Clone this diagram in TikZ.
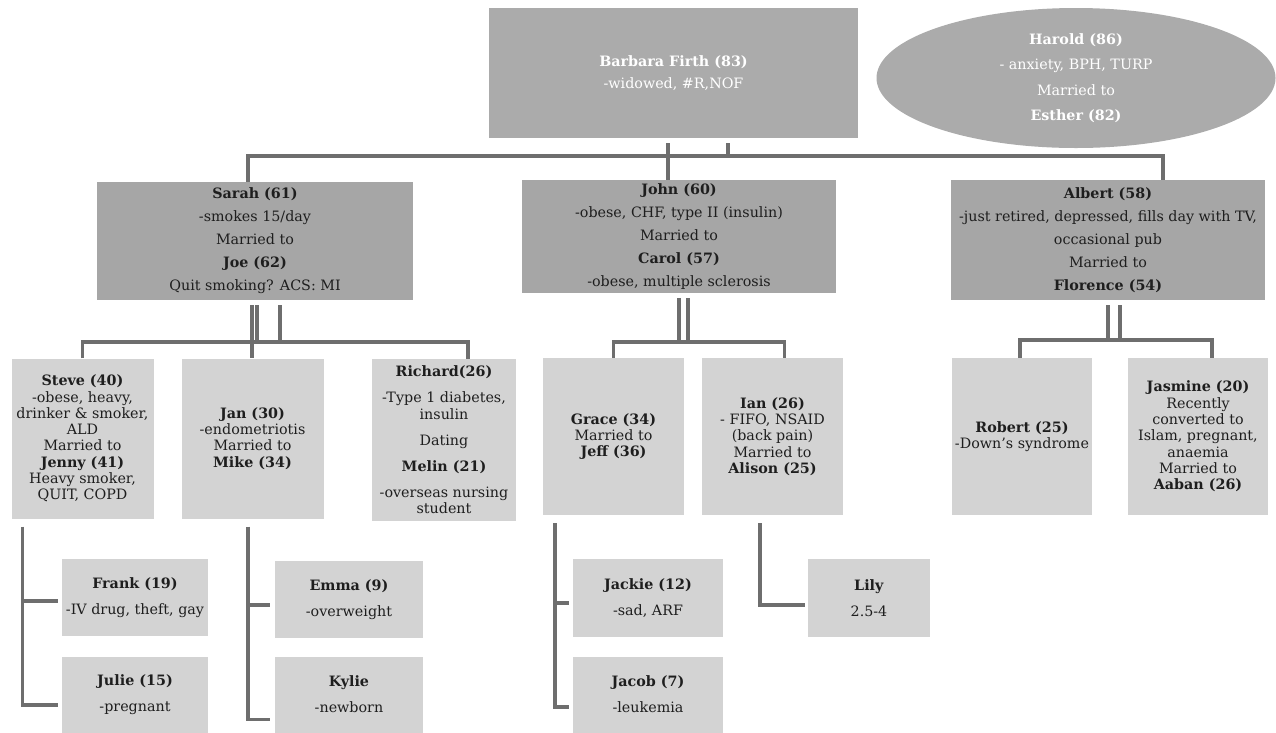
\documentclass[tikz,border=0pt]{standalone}
\usepackage{fontspec}
\setmainfont{DejaVu Serif}
\usetikzlibrary{positioning,shapes.geometric}
\definecolor{eldergray}{HTML}{ABABAB}
\definecolor{gengray}{HTML}{A6A6A6}
\definecolor{kidgray}{HTML}{D3D3D3}
\definecolor{linegray}{HTML}{6E6E6E}
\definecolor{inkgray}{HTML}{1E1E1E}
\tikzset{
  eldbox/.style={fill=eldergray, text=white, align=center, inner sep=0pt,
    font=\fontsize{14.3}{22}\selectfont},
  genbox/.style={rectangle, fill=gengray, text=inkgray, align=center, inner sep=0pt,
    minimum width=314, font=\fontsize{14.3}{23}\selectfont},
  kidbox/.style={rectangle, fill=kidgray, text=inkgray, align=center, inner sep=0pt,
    minimum width=142, minimum height=160, font=\fontsize{14.3}{16.3}\selectfont},
  grandbox/.style={rectangle, fill=kidgray, text=inkgray, align=center, inner sep=0pt,
    minimum width=148, minimum height=77, font=\fontsize{14.3}{26}\selectfont},
  famline/.style={draw=linegray, line width=3.5pt}
}
\begin{document}
\begin{tikzpicture}[x=1pt,y=-1pt]
   \useasboundingbox (0,0) rectangle (1276,732);

   \node[eldbox, rectangle, minimum width=369, minimum height=130] (barbara) at (673.5,73)
        {\textbf{Barbara Firth (83)}\\-widowed, \#R,NOF};
   \node[eldbox, ellipse, minimum width=399, minimum height=140,
         font=\fontsize{14.3}{25.5}\selectfont] (harold) at (1076,78)
        {\textbf{Harold (86)}\\- anxiety, BPH, TURP\\Married to\\\textbf{Esther (82)}};

   \node[genbox, minimum width=316, minimum height=118] (sarah) at (255,241)
        {\textbf{Sarah (61)}\\-smokes 15/day\\Married to\\\textbf{Joe (62)}\\Quit smoking? ACS: MI};
   \node[genbox, minimum height=113] (john) at (679,236.5)
        {\textbf{John (60)}\\-obese, CHF, type II (insulin)\\Married to\\\textbf{Carol (57)}\\-obese, multiple sclerosis};
   \node[genbox, minimum height=120] (albert) at (1108,240)
        {\textbf{Albert (58)}\\-just retired, depressed, fills day with TV,\\occasional pub\\Married to\\\textbf{Florence (54)}};

   \node[kidbox] (steve) at (82.5,438.5)
        {\textbf{Steve (40)}\\-obese, heavy,\\drinker \& smoker,\\ALD\\Married to\\\textbf{Jenny (41)}\\Heavy smoker,\\QUIT, COPD};
   \node[kidbox] (jan) at (252.5,438.5)
        {\textbf{Jan (30)}\\-endometriotis\\Married to\\\textbf{Mike (34)}};
   \node[kidbox, minimum width=144, minimum height=162] (richard) at (444,440)
        {\textbf{Richard(26)}\\[9.5pt]-Type 1 diabetes,\\insulin\\[10.5pt]Dating\\[9.5pt]\textbf{Melin (21)}\\[9.5pt]-overseas nursing\\student};
   \node[kidbox, minimum width=141, minimum height=157] (grace) at (613.5,436.5)
        {\textbf{Grace (34)}\\Married to\\\textbf{Jeff (36)}};
   \node[kidbox, minimum width=141, minimum height=157] (ian) at (772.5,436.5)
        {\textbf{Ian (26)}\\- FIFO, NSAID\\(back pain)\\Married to\\\textbf{Alison (25)}};
   \node[kidbox, minimum width=140, minimum height=157] (robert) at (1022,436.5)
        {\textbf{Robert (25)}\\-Down's syndrome};
   \node[kidbox, minimum width=140, minimum height=157] (jasmine) at (1198,436.5)
        {\textbf{Jasmine (20)}\\Recently\\converted to\\Islam, pregnant,\\anaemia\\Married to\\\textbf{Aaban (26)}};

   \node[grandbox, minimum width=146] (frank) at (135,597.5) {\textbf{Frank (19)}\\-IV drug, theft, gay};
   \node[grandbox, minimum width=146, minimum height=76] (julie) at (135,694.5) {\textbf{Julie (15)}\\-pregnant};
   \node[grandbox] (emma) at (349,599.5) {\textbf{Emma (9)}\\-overweight};
   \node[grandbox, minimum height=76] (kylie) at (349,694.5) {\textbf{Kylie}\\-newborn};
   \node[grandbox, minimum width=150, minimum height=78] (jackie) at (648,598) {\textbf{Jackie (12)}\\-sad, ARF};
   \node[grandbox, minimum width=150, minimum height=76] (jacob) at (648,694.5) {\textbf{Jacob (7)}\\-leukemia};
   \node[grandbox, minimum width=122, minimum height=78] (lily) at (869,598) {\textbf{Lily}\\2.5-4};

   \coordinate (topbar) at (0,156);
   \coordinate (kidbar) at (0,342);
   \coordinate (albbar) at (0,340);

   \draw[famline] ([xshift=-5.5,yshift=-5]barbara.south) -- ([xshift=-5.5]barbara.south |- topbar);
   \draw[famline] ([xshift=54.5,yshift=-5]barbara.south) -- ([xshift=54.5]barbara.south |- topbar);
   \draw[famline] ([xshift=-7]sarah.north) -- ([xshift=-7]sarah.north |- topbar)
        -- ([xshift=55]albert.north |- topbar) -- ([xshift=55]albert.north);
   \draw[famline] ([xshift=-11]john.north) -- ([xshift=-11]john.north |- topbar);

   \draw[famline] ([xshift=-3,yshift=-5]sarah.south) -- ([xshift=-3]sarah.south |- jan.north);
   \draw[famline] ([xshift=2,yshift=-5]sarah.south) -- ([xshift=2]sarah.south |- kidbar);
   \draw[famline] ([xshift=25,yshift=-5]sarah.south) |- ([xshift=-3]sarah.south |- kidbar);
   \draw[famline] (steve.north) -- (steve.north |- kidbar) -| ([xshift=24]richard.north);

   \draw[famline] ([yshift=-5]john.south) -- (john.south |- kidbar);
   \draw[famline] ([xshift=9,yshift=-5]john.south) -- ([xshift=9]john.south |- kidbar);
   \draw[famline] (grace.north) -- (grace.north |- kidbar) -| ([xshift=12]ian.north);

   \draw[famline] ([yshift=-5]albert.south) -- (albert.south |- albbar);
   \draw[famline] ([xshift=12,yshift=-5]albert.south) -- ([xshift=12]albert.south |- albbar);
   \draw[famline] ([xshift=-2]robert.north) -- ([xshift=-2]robert.north |- albbar) -| ([xshift=14]jasmine.north);

   \draw[famline] ([xshift=-60,yshift=-8]steve.south) |- ([xshift=-4,yshift=-10.5]julie.west);
   \draw[famline] ([xshift=-60]steve.south |- frank.west) ++(0,3.5) -- ([xshift=-4,yshift=-3.5]frank.west);
   \draw[famline] ([xshift=-4.5,yshift=-8]jan.south) |- ([xshift=-5,yshift=-25]kylie.west);
   \draw[famline] ([xshift=-4.5]jan.south |- emma.west) ++(0,5.5) -- ([xshift=-5,yshift=-5.5]emma.west);
   \draw[famline] ([xshift=-58.5,yshift=-8]grace.south) |- ([xshift=-4,yshift=-12.5]jacob.west);
   \draw[famline] ([xshift=-58.5]grace.south |- jackie.west) ++(0,5) -- ([xshift=-4,yshift=-5]jackie.west);
   \draw[famline] ([xshift=-12.5,yshift=-8]ian.south) |- ([xshift=-3,yshift=-7]lily.west);
\end{tikzpicture}
\end{document}
